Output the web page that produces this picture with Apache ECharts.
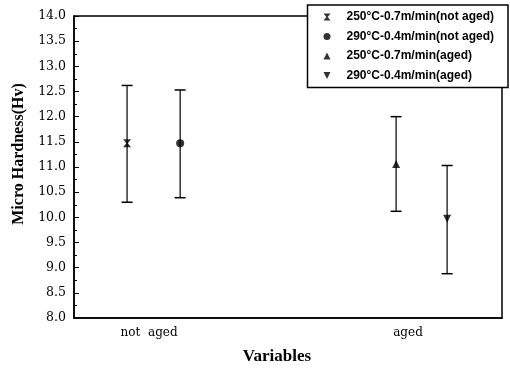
<!DOCTYPE html>
<html><head><meta charset="utf-8">
<script src="https://cdn.jsdelivr.net/npm/echarts@6/dist/echarts.min.js"></script>
<style>html,body{margin:0;padding:0;background:#fff}#c{width:510px;height:370px}</style>
</head><body><div id="c"></div>
<script>
var categories = ['not  aged', 'aged'];
var categoryPos = [1, 2];
var seriesNames = ['250\u00b0C-0.7m/min(not aged)', '290\u00b0C-0.4m/min(not aged)', '250\u00b0C-0.7m/min(aged)', '290\u00b0C-0.4m/min(aged)'];
var xPos = [0.915, 1.120, 1.954, 2.151];
var means = [11.47, 11.47, 11.06, 9.97];
var upper = [12.62, 12.53, 12.00, 11.03];
var lower = [10.30, 10.39, 10.12, 8.88];
var yTicks = [8, 14, 0.5];

var symbols = [
  'path://M0,0 L10,0 L6,5 L10,10 L0,10 L4,5 Z',
  'circle', 'triangle',
  'path://M0,0 L10,0 L5,10 Z'
];
var symSizes = [8, 8, 8, 8];

var series = [];
for (var i = 0; i < 4; i++) {
  series.push({
    type: 'custom', name: 'err' + i, silent: true, z: 2,
    data: [[xPos[i], lower[i], upper[i]]],
    encode: { x: 0, y: [1, 2] },
    renderItem: function (params, api) {
      var x = api.value(0);
      var lo = api.coord([x, api.value(1)]);
      var hi = api.coord([x, api.value(2)]);
      var w = 5.5;
      var st = { stroke: '#000', lineWidth: 1.2 };
      return { type: 'group', children: [
        { type: 'line', shape: { x1: lo[0], y1: lo[1], x2: hi[0], y2: hi[1] }, style: st },
        { type: 'line', shape: { x1: lo[0] - w, y1: lo[1], x2: lo[0] + w, y2: lo[1] }, style: { stroke: '#000', lineWidth: 1.5 } },
        { type: 'line', shape: { x1: hi[0] - w, y1: hi[1], x2: hi[0] + w, y2: hi[1] }, style: { stroke: '#000', lineWidth: 1.5 } }
      ]};
    }
  });
  series.push({
    type: 'scatter', name: seriesNames[i], z: 3,
    symbol: symbols[i], symbolSize: symSizes[i],
    itemStyle: { color: '#000' },
    data: [[xPos[i], means[i]]]
  });
}

var chart = echarts.init(document.getElementById('c'));
chart.setOption({
  animation: false,
  backgroundColor: '#fff',
  grid: { left: 74, right: 8, top: 16, bottom: 50, show: true, borderColor: '#000', borderWidth: 1.5, backgroundColor: 'transparent' },
  legend: {
    data: seriesNames.map(function (n, i) { return { name: n, icon: symbols[i] }; }),
    orient: 'vertical', right: 2, top: 5,
    itemWidth: 7, itemHeight: 7, itemGap: 7.5,
    padding: [6, 14, 6, 16],
    backgroundColor: '#fff', borderColor: '#000', borderWidth: 1.5,
    textStyle: { fontFamily: 'Liberation Sans', fontWeight: 'bold', fontSize: 12, color: '#000', padding: [0, 0, 0, 11] },
    z: 10
  },
  xAxis: {
    type: 'value', min: 0.710, max: 2.363,
    name: 'Variables', nameLocation: 'middle', nameGap: 30,
    nameTextStyle: { fontFamily: 'Liberation Serif', fontWeight: 'bold', fontSize: 17, color: '#000', padding: [0, 22, 0, 0] },
    axisLine: { show: true, onZero: false, lineStyle: { color: '#000', width: 1.5 } },
    axisTick: { show: false },
    splitLine: { show: false },
    axisLabel: {
      customValues: categoryPos, margin: 9,
      fontFamily: 'DejaVu Serif', fontSize: 12, color: '#000',
      formatter: function (v) { var k = categoryPos.indexOf(Math.round(v)); return k >= 0 ? categories[k] : ''; }
    }
  },
  yAxis: {
    type: 'value', min: yTicks[0], max: yTicks[1], interval: yTicks[2],
    name: 'Micro Hardness(Hv)', nameLocation: 'middle', nameGap: 45,
    nameTextStyle: { fontFamily: 'Liberation Serif', fontWeight: 'bold', fontSize: 16, color: '#000', padding: [0, 0, 0, 26] },
    axisLine: { show: true, lineStyle: { color: '#000', width: 1.5 } },
    axisTick: { show: true, inside: true, length: 5, lineStyle: { color: '#000' } },
    minorTick: { show: true, splitNumber: 2, length: 3, lineStyle: { color: '#000' } },
    splitLine: { show: false },
    axisLabel: { fontFamily: 'DejaVu Serif', fontSize: 12.5, color: '#000', margin: 8,
      formatter: function (v) { return v.toFixed(1); } }
  },
  series: series
});
</script></body></html>
